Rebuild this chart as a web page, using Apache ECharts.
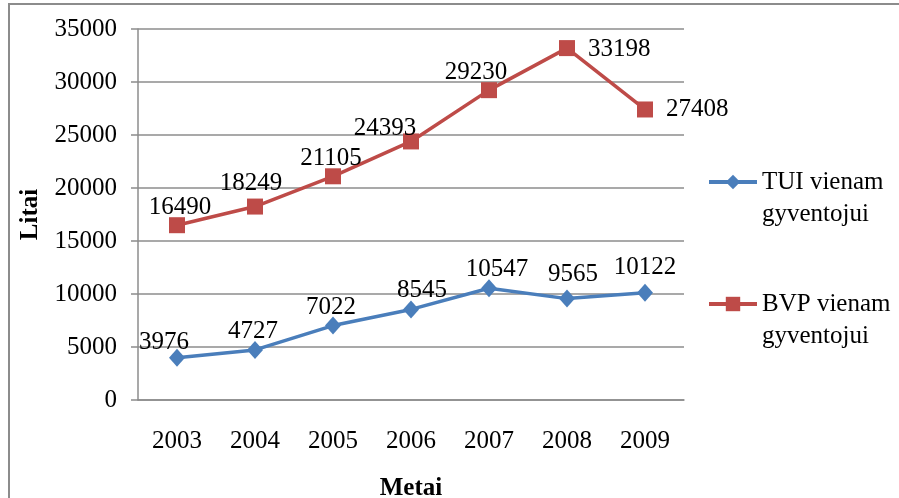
<!DOCTYPE html>
<html>
<head>
<meta charset="utf-8">
<script src="https://cdn.jsdelivr.net/npm/echarts@6/dist/echarts.min.js"></script>
<style>
html,body{margin:0;padding:0;background:#fff;}
#c{width:899px;height:498px;}
</style>
</head>
<body>
<div id="c"></div>
<script>
const years = ['2003','2004','2005','2006','2007','2008','2009'];
const tuiValues = [3976, 4727, 7022, 8545, 10547, 9565, 10122];
const bvpValues = [16490, 18249, 21105, 24393, 29230, 33198, 27408];
const tuiName = 'TUI vienam\ngyventojui';
const bvpName = 'BVP vienam\ngyventojui';
const yTicks = [0, 5000, 10000, 15000, 20000, 25000, 30000, 35000];

const FONT = '"Liberation Serif", "Times New Roman", serif';
const FS = 25;
const BLUE = '#4A7EBB';
const RED = '#BE4B48';

// label placement tweaks (style, not data)
const tuiLabelOffsets = [[-13,3],[-2,0],[-2,0],[11,0],[8,0],[6,-6],[0,-7]];
const bvpLabelStyle = [
  {position:'top', offset:[3,0]},
  {position:'top', offset:[-4,-6]},
  {position:'top', offset:[-2,0]},
  {position:'top', offset:[-26,5]},
  {position:'top', offset:[-13,0]},
  {position:'right', offset:[0,1], distance: 13},
  {position:'right', offset:[0,0], distance: 13}
];

const chart = echarts.init(document.getElementById('c'), null, {renderer:'canvas'});
chart.setOption({
  animation: false,
  backgroundColor: '#fff',
  textStyle: {fontFamily: FONT},
  graphic: [{
    type: 'rect',
    shape: {x: 9, y: 4, width: 1000, height: 600},
    style: {fill: 'none', stroke: '#8c8c8c', lineWidth: 2},
    silent: true
  }],
  grid: {left: 138, top: 29, right: 215, bottom: 98, containLabel: false, outerBoundsMode: 'none'},
  legend: {
    orient: 'vertical',
    left: 707,
    top: 134,
    padding: 0,
    itemWidth: 48,
    itemHeight: 18,
    itemGap: 26,
    data: [tuiName, bvpName],
    formatter: name => '\n' + name,
    lineStyle: {width: 4},
    textStyle: {fontFamily: FONT, fontSize: FS, color: '#000', lineHeight: 32}
  },
  xAxis: {
    type: 'category',
    data: years,
    boundaryGap: true,
    name: 'Metai',
    nameLocation: 'middle',
    nameGap: 76,
    nameTextStyle: {fontFamily: FONT, fontSize: FS, fontWeight: 'bold', color: '#000'},
    axisLine: {lineStyle: {color: '#8c8c8c', width: 1.5}},
    axisTick: {alignWithLabel: true, length: 6, lineStyle: {color: '#8c8c8c', width: 1.5}},
    axisLabel: {fontFamily: FONT, fontSize: FS, color: '#000', margin: 29}
  },
  yAxis: {
    type: 'value',
    min: 0,
    max: 35000,
    interval: 5000,
    name: 'Litai',
    nameLocation: 'middle',
    nameGap: 95,
    nameRotate: 90,
    nameTextStyle: {fontFamily: FONT, fontSize: FS, fontWeight: 'bold', color: '#000'},
    axisLine: {show: true, lineStyle: {color: '#8c8c8c', width: 1.5}},
    axisTick: {show: true, length: 7, lineStyle: {color: '#8c8c8c', width: 1.5}},
    splitLine: {lineStyle: {color: '#8c8c8c', width: 1.5}},
    axisLabel: {fontFamily: FONT, fontSize: FS, color: '#000', margin: 21,
      formatter: v => yTicks.includes(v) ? String(v) : ''}
  },
  series: [
    {
      name: tuiName,
      type: 'line',
      data: tuiValues.map((v, i) => ({value: v, label: {offset: tuiLabelOffsets[i]}})),
      symbol: 'diamond',
      symbolSize: [16, 18],
      lineStyle: {color: BLUE, width: 3.5},
      itemStyle: {color: BLUE},
      label: {show: true, position: 'top', distance: -3, fontFamily: FONT, fontSize: FS, color: '#000'},
      z: 3
    },
    {
      name: bvpName,
      type: 'line',
      data: bvpValues.map((v, i) => ({value: v, label: bvpLabelStyle[i]})),
      symbol: 'rect',
      symbolSize: 16,
      lineStyle: {color: RED, width: 3.5},
      itemStyle: {color: RED},
      label: {show: true, position: 'top', distance: -3, fontFamily: FONT, fontSize: FS, color: '#000'},
      z: 3
    }
  ]
});
</script>
</body>
</html>
